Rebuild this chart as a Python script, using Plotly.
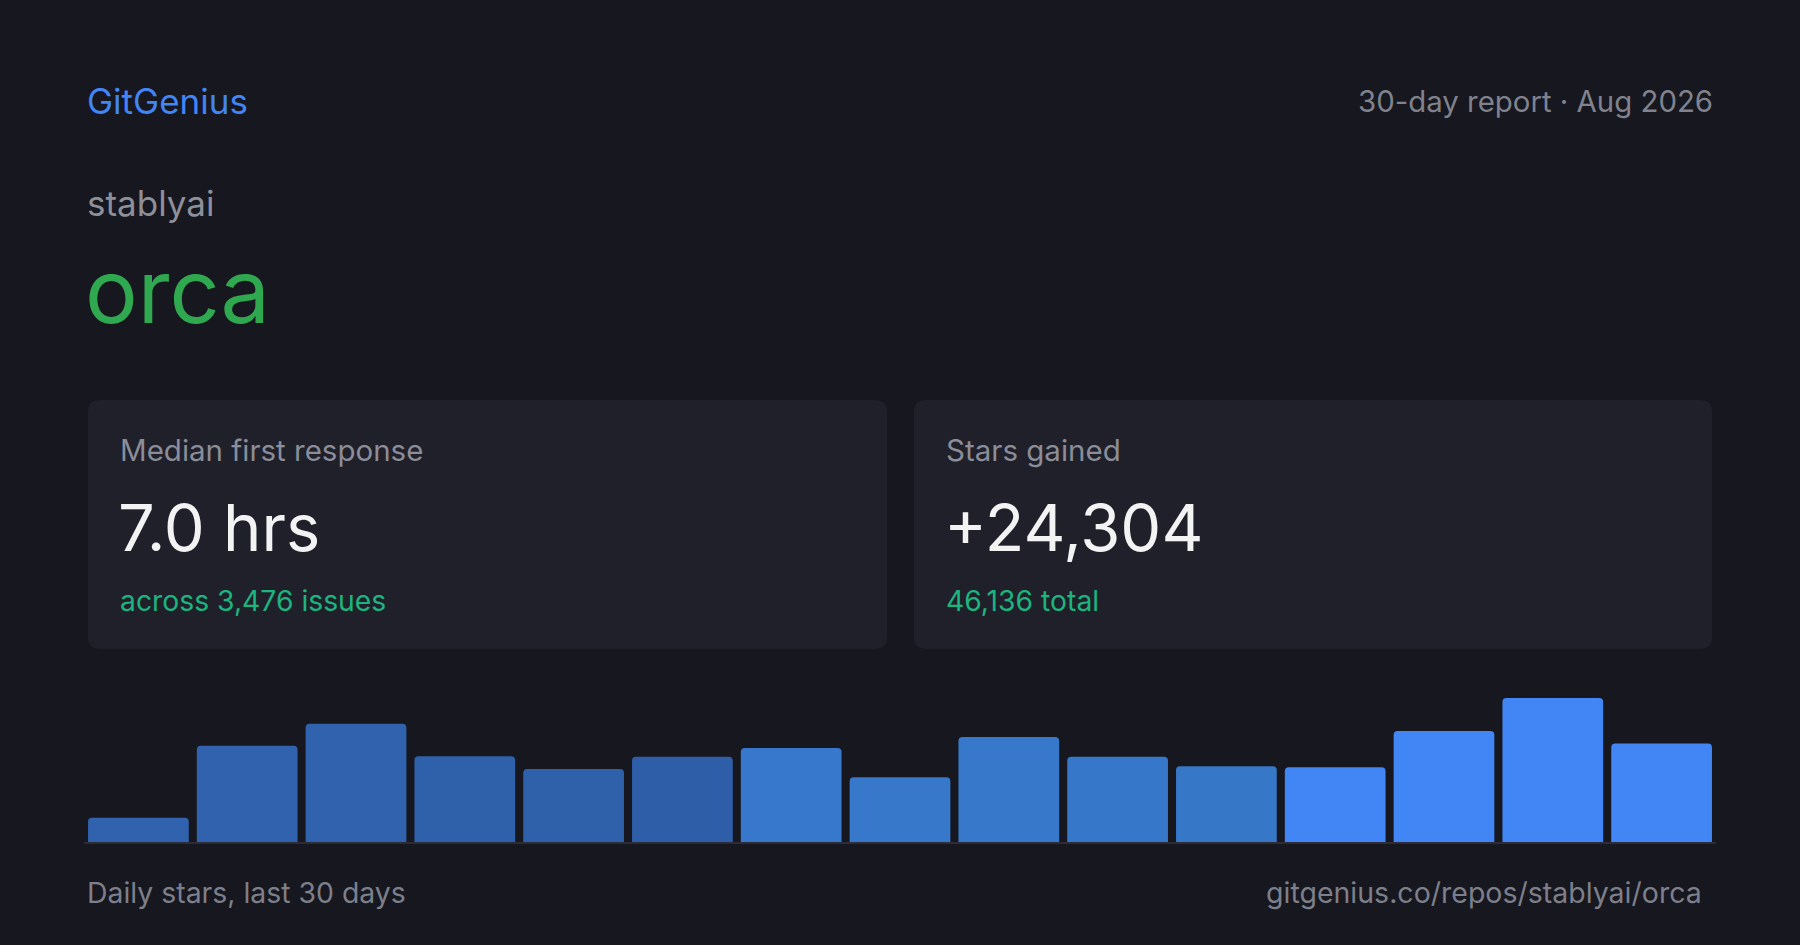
import plotly.graph_objects as go

W, H = 1800, 945

# daily stars, binned in pairs of days (15 bins)
bins = ["1", "2", "3", "4", "5", "6", "7", "8", "9", "10", "11", "12", "13", "14", "15"]
stars = [440, 1750, 2150, 1560, 1330, 1550, 1710, 1180, 1910, 1550, 1380, 1360, 2020, 2620, 1794]
bar_colors = ["#3062ae", "#3062ad", "#3062ad", "#2f60aa", "#2f60aa", "#2e5ea8",
              "#3777cc", "#3778cb", "#3778cb", "#3777c9", "#3677c8",
              "#4285f4", "#4285f4", "#4285f4", "#4285f4"]

brand = "GitGenius"
report = "30-day report · Aug 2026"
owner = "stablyai"
repo = "orca"
cards = [
    ("Median first response", "7.0 hrs", "across 3,476 issues"),
    ("Stars gained", "+24,304", "46,136 total"),
]
footer_left = "Daily stars, last 30 days"
footer_right = "gitgenius.co/repos/stablyai/orca"

bg = "#16171f"
card_bg = "#1f202a"
muted = "#8b8d98"
font = "Inter"


def px(x):
    return x / W


def py(y):
    return 1 - y / H


def rounded_rect(x0, y0, x1, y1, r):
    # pixel coords -> paper coords path with quadratic corners
    pts = [
        f"M {px(x0 + r)},{py(y0)}",
        f"L {px(x1 - r)},{py(y0)}",
        f"Q {px(x1)},{py(y0)} {px(x1)},{py(y0 + r)}",
        f"L {px(x1)},{py(y1 - r)}",
        f"Q {px(x1)},{py(y1)} {px(x1 - r)},{py(y1)}",
        f"L {px(x0 + r)},{py(y1)}",
        f"Q {px(x0)},{py(y1)} {px(x0)},{py(y1 - r)}",
        f"L {px(x0)},{py(y0 + r)}",
        f"Q {px(x0)},{py(y0)} {px(x0 + r)},{py(y0)}",
        "Z",
    ]
    return " ".join(pts)


fig = go.Figure()

fig.add_trace(go.Bar(
    x=bins, y=stars,
    marker=dict(color=bar_colors, cornerradius=4, line=dict(width=0)),
    hoverinfo="skip",
))

shapes = []
card_x = [(88, 887), (914, 1712)]
for x0, x1 in card_x:
    shapes.append(dict(
        type="path", xref="paper", yref="paper",
        path=rounded_rect(x0, 400, x1, 649, 12),
        fillcolor=card_bg, line=dict(width=0), layer="below",
    ))

annotations = []


def text(x, y, s, size, color, anchor="left"):
    annotations.append(dict(
        x=px(x), y=py(y), xref="paper", yref="paper",
        text=s, showarrow=False, xanchor=anchor, yanchor="middle",
        font=dict(family=font, size=size, color=color),
    ))


text(85, 101.5, brand, 35, "#4285f4")
text(1715, 101.5, report, 29.4, "#80828d", anchor="right")
text(85, 202.5, owner, 35, "#8e9099")
text(83, 291, repo, 88, "#2fa84f")

for (x0, x1), (label, value, sub) in zip(card_x, cards):
    text(x0 + 30, 449.5, label, 29.5, muted)
    text(x0 + 28, 527, value, 65, "#f3f3f3")
    text(x0 + 30, 600.5, sub, 28.3, "#1db47f")

text(85, 892.5, footer_left, 28.4, "#7d7f8a")
text(1704, 892.5, footer_right, 28.5, "#7d7f8a", anchor="right")

fig.update_layout(
    width=W, height=H,
    margin=dict(l=0, r=0, t=0, b=0),
    paper_bgcolor=bg, plot_bgcolor=bg,
    showlegend=False,
    bargap=0.074,
    shapes=shapes,
    annotations=annotations,
    xaxis=dict(
        domain=[px(84), px(1716)],
        showgrid=False, zeroline=False, showticklabels=False,
        showline=True, linecolor="#2b2c38", linewidth=2,
        fixedrange=True,
    ),
    yaxis=dict(
        domain=[py(842), py(698)],
        range=[0, 2620],
        showgrid=False, zeroline=False, showticklabels=False,
        fixedrange=True,
    ),
)

fig.write_html(
    "out.html",
    config={"displayModeBar": False},
    post_script="document.body.style.margin='0';document.body.style.background='#16171f';document.body.style.overflow='hidden';",
)
